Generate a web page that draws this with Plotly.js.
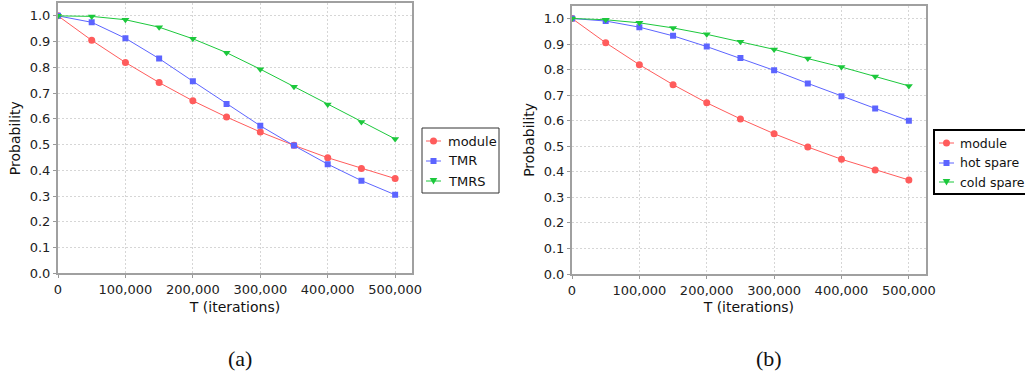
<!DOCTYPE html>
<html>
<head>
<meta charset="utf-8">
<script src="https://cdn.plot.ly/plotly-3.0.1.min.js"></script>
<style>html,body{margin:0;padding:0;background:#fff;} #chart{width:1025px;height:373px;}</style>
</head>
<body>
<div id="chart"></div>
<script>
const T = [0, 50000, 100000, 150000, 200000, 250000, 300000, 350000, 400000, 450000, 500000];
const moduleA = [1.0, 0.905, 0.819, 0.741, 0.670, 0.607, 0.549, 0.497, 0.449, 0.407, 0.368];
const tmr = [1.0, 0.975, 0.913, 0.834, 0.746, 0.658, 0.573, 0.496, 0.424, 0.360, 0.305];
const tmrs = [1.0, 0.998, 0.985, 0.956, 0.911, 0.857, 0.793, 0.725, 0.656, 0.588, 0.522];
const moduleB = [1.0, 0.905, 0.819, 0.741, 0.670, 0.607, 0.549, 0.497, 0.449, 0.407, 0.368];
const hotSpare = [1.0, 0.990, 0.966, 0.932, 0.890, 0.845, 0.797, 0.746, 0.696, 0.648, 0.600];
const coldSpare = [1.0, 0.995, 0.983, 0.963, 0.938, 0.909, 0.879, 0.843, 0.810, 0.773, 0.736];
const seriesNamesA = ['module', 'TMR', 'TMRS'];
const seriesNamesB = ['module', 'hot spare', 'cold spare'];
const xTicks = [0, 100000, 200000, 300000, 400000, 500000];
const xTickText = ['0', '100,000', '200,000', '300,000', '400,000', '500,000'];
const yTicks = [0, 0.1, 0.2, 0.3, 0.4, 0.5, 0.6, 0.7, 0.8, 0.9, 1.0];
const yTickText = ['0.0','0.1','0.2','0.3','0.4','0.5','0.6','0.7','0.8','0.9','1.0'];
const captions = ['(a)', '(b)'];

const COLORS = ['#ff5c5c', '#5c64ff', '#1cc83c'];
const SYMBOLS = ['circle', 'square', 'triangle-down'];
const FONT = 'DejaVu Sans, sans-serif';
const W = 1025, H = 373;

function tr(x, y, name, i, xa, ya) {
  return {x: x, y: y, name: name, type: 'scatter', mode: 'lines+markers',
    xaxis: xa, yaxis: ya, showlegend: false,
    line: {color: COLORS[i], width: 1},
    marker: {color: COLORS[i], symbol: SYMBOLS[i], size: i === 1 ? 6 : 7, line: {width: 0}}};
}

const data = [
  tr(T, moduleA, seriesNamesA[0], 0, 'x', 'y'),
  tr(T, tmr, seriesNamesA[1], 1, 'x', 'y'),
  tr(T, tmrs, seriesNamesA[2], 2, 'x', 'y'),
  tr(T, moduleB, seriesNamesB[0], 0, 'x2', 'y2'),
  tr(T, hotSpare, seriesNamesB[1], 1, 'x2', 'y2'),
  tr(T, coldSpare, seriesNamesB[2], 2, 'x2', 'y2')
];

function xa(x0, x1, anchor) {
  return {domain: [x0 / W, x1 / W], range: [0, 525000], anchor: anchor,
    tickmode: 'array', tickvals: xTicks, ticktext: xTickText,
    ticks: 'outside', ticklen: 3, tickcolor: '#999', tickwidth: 1,
    showline: true, linecolor: '#a0a0a0', linewidth: 2, mirror: true,
    showgrid: true, gridcolor: '#d6d6d6', griddash: '2px,2px', gridwidth: 1,
    zeroline: false, tickfont: {family: FONT, size: 13, color: '#222'},
    title: {text: 'T (iterations)', font: {family: FONT, size: 14, color: '#111'}, standoff: 6}};
}
function ya(y0, y1, anchor) {
  return {domain: [(H - y1) / H, (H - y0) / H], range: [0, 1.05], anchor: anchor,
    tickmode: 'array', tickvals: yTicks, ticktext: yTickText,
    ticks: 'outside', ticklen: 3, tickcolor: '#999', tickwidth: 1,
    showline: true, linecolor: '#a0a0a0', linewidth: 2, mirror: true,
    showgrid: true, gridcolor: '#d6d6d6', griddash: '2px,2px', gridwidth: 1,
    zeroline: false, tickfont: {family: FONT, size: 13, color: '#222'},
    title: {text: 'Probability', font: {family: FONT, size: 14, color: '#111'}, standoff: 6}};
}

// hand-drawn legend boxes (paper coordinates converted from pixels)
const shapes = [], annotations = [];
const px = v => v / W, py = v => (H - v) / H;
function legendBox(left, top, right, bottom, names, rows, lineX0, lineX1, textX, bw, bc, fs) {
  shapes.push({type: 'rect', xref: 'paper', yref: 'paper', x0: px(left), x1: px(right),
    y0: py(bottom), y1: py(top), line: {color: bc, width: bw}, fillcolor: '#fff', layer: 'above'});
  names.forEach((n, i) => {
    const yy = rows[i], c = COLORS[i], cx = (lineX0 + lineX1) / 2;
    shapes.push({type: 'line', xref: 'paper', yref: 'paper', x0: px(lineX0), x1: px(lineX1),
      y0: py(yy), y1: py(yy), line: {color: c, width: 1}, layer: 'above'});
    if (SYMBOLS[i] === 'circle') {
      shapes.push({type: 'circle', xref: 'paper', yref: 'paper', x0: px(cx - 3.5), x1: px(cx + 3.5),
        y0: py(yy + 3.5), y1: py(yy - 3.5), fillcolor: c, line: {width: 0}, layer: 'above'});
    } else if (SYMBOLS[i] === 'square') {
      shapes.push({type: 'rect', xref: 'paper', yref: 'paper', x0: px(cx - 3), x1: px(cx + 3),
        y0: py(yy + 3), y1: py(yy - 3), fillcolor: c, line: {width: 0}, layer: 'above'});
    } else {
      shapes.push({type: 'path', xref: 'paper', yref: 'paper',
        path: 'M ' + px(cx - 3.8) + ' ' + py(yy - 3) + ' L ' + px(cx + 3.8) + ' ' + py(yy - 3) +
              ' L ' + px(cx) + ' ' + py(yy + 3.5) + ' Z',
        fillcolor: c, line: {width: 0}, layer: 'above'});
    }
    annotations.push({text: n, xref: 'paper', yref: 'paper', x: px(textX), y: py(yy),
      xanchor: 'left', yanchor: 'middle', showarrow: false,
      font: {family: FONT, size: fs, color: '#111'}});
  });
}
legendBox(422, 128, 499, 193, seriesNamesA, [141, 161, 181], 426, 441, 446, 1, '#333', 13);
legendBox(934, 130, 1032, 194, seriesNamesB, [143, 163, 182], 939, 954, 958, 2, '#000', 12.5);

annotations.push(
  {text: captions[0], x: px(240), y: py(358), xref: 'paper', yref: 'paper', xanchor: 'center', yanchor: 'middle',
   showarrow: false, font: {family: 'Liberation Serif, serif', size: 22, color: '#111'}},
  {text: captions[1], x: px(769), y: py(358), xref: 'paper', yref: 'paper', xanchor: 'center', yanchor: 'middle',
   showarrow: false, font: {family: 'Liberation Serif, serif', size: 22, color: '#111'}}
);

const layout = {
  width: W, height: H,
  margin: {l: 0, r: 0, t: 0, b: 0, autoexpand: false},
  paper_bgcolor: '#fff', plot_bgcolor: '#fff',
  font: {family: FONT},
  showlegend: false,
  xaxis: xa(58, 412, 'y'),
  yaxis: ya(3, 273.3, 'x'),
  xaxis2: xa(572, 925.7, 'y2'),
  yaxis2: ya(5.7, 274, 'x2'),
  shapes: shapes,
  annotations: annotations
};

Plotly.newPlot('chart', data, layout, {staticPlot: true, displayModeBar: false});
</script>
</body>
</html>
